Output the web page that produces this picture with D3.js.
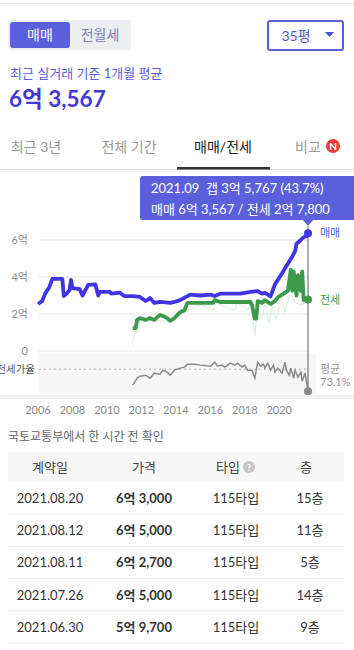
<!DOCTYPE html>
<html lang="ko">
<head>
<meta charset="utf-8">
<title>매매/전세</title>
<script src="https://d3js.org/d3.v7.min.js"></script>
<style>
  body { margin: 0; background: #fff; }
  svg { display: block; font-family: Lato, "Noto Sans CJK KR", sans-serif; }
</style>
</head>
<body>
<svg width="354" height="650"></svg>
<script>

// ---- data (값: 억원) ----
var maemae = [
  ["2006.01",2.54],["2006.04",2.7],["2006.06",3.1],["2006.09",3.46],["2006.11",3.9],
  ["2007.06",3.9],["2007.07",2.97],["2007.09",3.1],["2007.11",3.3],["2007.12",3.84],
  ["2008.01",3.4],["2008.06",3.35],["2008.08",3.0],["2008.12",3.57],["2009.05",3.6],
  ["2009.07",3.0],["2009.08",3.2],["2010.03",3.2],["2010.04",3.1],["2010.10",3.15],
  ["2011.01",2.97],["2011.07",2.97],["2011.12",2.92],["2012.04",2.7],["2012.07",2.86],
  ["2012.10",2.6],["2013.02",2.65],["2013.09",2.6],["2013.12",2.65],["2014.04",2.75],
  ["2014.11",3.05],["2015.06",3.0],["2016.01",3.05],["2016.04",2.97],["2016.08",3.1],
  ["2017.10",3.1],["2018.05",3.2],["2018.10",3.24],["2019.01",3.1],["2019.03",3.15],
  ["2019.07",2.95],["2019.10",3.6],["2020.03",4.2],["2020.06",4.6],["2020.10",5.1],
  ["2020.12",5.4],["2021.01",5.8],["2021.04",6.0],["2021.06",6.15],["2021.08",6.2],
  ["2021.09",6.36]
];

var jeonse = [
  ["2011.07",1.24],["2011.09",1.24],["2011.10",1.68],["2011.12",1.78],["2012.04",1.68],
  ["2012.07",1.78],["2012.10",1.68],["2013.02",1.95],["2013.04",1.89],["2013.07",1.78],
  ["2013.09",1.62],["2013.12",1.78],["2014.04",2.1],["2014.07",2.2],["2014.09",2.6],
  ["2015.06",2.6],["2016.03",2.6],["2016.04",2.75],["2016.08",2.65],["2017.10",2.65],
  ["2018.05",2.65],["2018.06",2.5],["2018.08",1.75],["2018.09",1.75],["2018.10",2.7],
  ["2019.01",2.6],["2019.03",2.75],["2019.07",2.55],["2019.10",2.7],["2019.12",2.9],
  ["2020.04",3.1],["2020.07",3.25],["2020.09",4.4],["2020.10",3.25],["2020.11",4.3],
  ["2021.01",3.0],["2021.02",4.1],["2021.04",3.25],["2021.05",4.3],["2021.06",2.75],
  ["2021.08",2.78],["2021.09",2.78]
];

var jeonseLow = [
  ["2011.07",0.3],["2011.09",1.2],["2011.10",1.0],["2011.12",1.7],["2013.07",1.6],
  ["2014.04",2.0],["2015.06",2.5],["2016.03",2.2],["2016.05",2.6],["2017.06",2.2],
  ["2017.08",2.6],["2018.03",2.2],["2018.05",2.6],["2018.08",0.8],["2018.10",2.4],
  ["2019.01",1.7],["2019.03",2.6],["2019.06",1.5],["2019.08",2.5],["2019.11",1.7],
  ["2020.02",2.9],["2020.05",2.1],["2020.08",3.0],["2020.10",2.9],["2021.01",2.6],
  ["2021.05",2.5],["2021.09",2.78]
];

// 전세가율 (%)
var ratio = [
  ["2011.07",51.7],["2011.10",61.1],["2011.12",63.8],["2012.04",65.1],["2012.07",61.1],
  ["2012.10",67.8],["2013.02",66.4],["2013.04",71.8],["2013.07",69.1],["2013.09",65.1],
  ["2013.12",71.8],["2014.04",74.5],["2014.07",75.8],["2014.09",79.8],["2015.02",79.8],
  ["2015.06",78.5],["2016.01",77.1],["2016.04",82.5],["2016.06",77.1],["2016.09",78.5],
  ["2016.11",75.8],["2017.03",81.1],["2017.06",78.5],["2017.08",81.1],["2017.11",75.8],
  ["2018.01",78.5],["2018.03",71.8],["2018.06",71.8],["2018.08",61.1],["2018.10",82.5],
  ["2018.12",77.1],["2019.02",79.8],["2019.03",74.5],["2019.05",81.1],["2019.07",71.8],
  ["2019.09",78.5],["2019.10",69.1],["2019.12",74.5],["2020.03",67.8],["2020.05",82.5],
  ["2020.06",71.8],["2020.08",65.1],["2020.09",74.5],["2020.11",61.1],["2020.12",71.8],
  ["2021.02",62.4],["2021.04",69.1],["2021.05",57.1],["2021.07",67.8],["2021.09",43.7]
];
var ratioAvg = 73.1;

var yTicks = [0, 2, 4, 6];
var yearTicks = [2006, 2008, 2010, 2012, 2014, 2016, 2018, 2020];

var tabs = ["최근 3년", "전체 기간", "매매/전세", "비교"];
var tableHead = ["계약일", "가격", "타입", "층"];
var deals = [
  ["2021.08.20", "6억 3,000", "115타입", "15층"],
  ["2021.08.12", "6억 5,000", "115타입", "11층"],
  ["2021.08.11", "6억 2,700", "115타입", "5층"],
  ["2021.07.26", "6억 5,000", "115타입", "14층"],
  ["2021.06.30", "5억 9,700", "115타입", "9층"]
];

// ---- setup ----
var svg = d3.select("svg");
var BLUE = "#5b5fdb", LINE_BLUE = "#4034e3", GREEN = "#3d9a4c";
var parse = d3.timeParse("%Y.%m");

var x = d3.scaleTime()
    .domain([parse("2006.01"), parse("2021.09")])
    .range([38, 308]);
var y = d3.scaleLinear().domain([0, 6]).range([351, 240]);
var yr = d3.scaleLinear().domain([40, 100]).range([394, 349]);

// top border
svg.append("rect").attr("x", 0).attr("y", 3).attr("width", 354).attr("height", 1).attr("fill", "#e4e4e4");

// 매매 / 전월세 toggle
svg.append("rect").attr("x", 8).attr("y", 20).attr("width", 123).attr("height", 30)
    .attr("rx", 3).attr("fill", "#eceef2");
svg.append("rect").attr("x", 10).attr("y", 22).attr("width", 60).attr("height", 26)
    .attr("rx", 3).attr("fill", BLUE);
svg.append("text").attr("x", 40).attr("y", 40).attr("text-anchor", "middle")
    .attr("font-size", "14px").attr("fill", "#fff").text("매매");
svg.append("text").attr("x", 100).attr("y", 40).attr("text-anchor", "middle")
    .attr("font-size", "14px").attr("fill", "#7b7fb5").text("전월세");

// dropdown
svg.append("rect").attr("x", 268).attr("y", 21).attr("width", 75).attr("height", 29)
    .attr("rx", 2).attr("fill", "#fff").attr("stroke", BLUE).attr("stroke-width", 2);
svg.append("text").attr("x", 296).attr("y", 41).attr("text-anchor", "middle")
    .attr("font-size", "14px").attr("fill", "#5157c8").text("35평");
svg.append("path").attr("d", "M325,32 L334,32 L329.5,37 Z").attr("fill", "#4a4fc5");

// headline
svg.append("text").attr("x", 10).attr("y", 78)
    .attr("font-size", "13px").attr("fill", "#5a5ed6").text("최근 실거래 기준 1개월 평균");
svg.append("text").attr("x", 9).attr("y", 107)
    .attr("font-size", "22.5px").attr("font-weight", "bold").attr("fill", "#4338d6").text("6억 3,567");

// tabs
var tabX = [36, 129, 223, 308];
svg.selectAll(".tab").data(tabs).enter().append("text")
    .attr("class", "tab")
    .attr("x", function(d, i) { return tabX[i]; })
    .attr("y", 152)
    .attr("text-anchor", "middle")
    .attr("font-size", "14px")
    .attr("fill", function(d, i) { return i == 2 ? "#222" : "#9a9a9a"; })
    .text(function(d) { return d; });
svg.append("circle").attr("cx", 333).attr("cy", 146).attr("r", 7).attr("fill", "#f23a3c");
svg.append("text").attr("x", 333).attr("y", 149.5).attr("text-anchor", "middle")
    .attr("font-size", "10px").attr("font-weight", "bold").attr("fill", "#fff").text("N");
svg.append("rect").attr("x", 0).attr("y", 169).attr("width", 354).attr("height", 1).attr("fill", "#dcdcdc");
svg.append("rect").attr("x", 177).attr("y", 167).attr("width", 93).attr("height", 2.5).attr("fill", "#333");

// ---- chart ----
var g = svg.append("g");

// ratio panel background
g.append("rect").attr("x", 39).attr("y", 354).attr("width", 277).attr("height", 40).attr("fill", "#f6f6f6");

// gridlines + y labels
g.selectAll(".grid").data(yTicks).enter().append("line")
    .attr("x1", 39).attr("x2", 308)
    .attr("y1", function(d) { return y(d); }).attr("y2", function(d) { return y(d); })
    .attr("stroke", "#e6e6e6");
g.selectAll(".ylab").data(yTicks).enter().append("text")
    .attr("x", 28).attr("y", function(d) { return y(d) + 4; })
    .attr("text-anchor", "end").attr("font-size", "11px").attr("fill", "#8a8a8a")
    .text(function(d) { return d == 0 ? "0" : d + "억"; });

var line = d3.line()
    .x(function(d) { return x(parse(d[0])); })
    .y(function(d) { return y(d[1]); });

g.append("path").datum(jeonseLow).attr("d", line)
    .attr("fill", "none").attr("stroke", "#dcefdf").attr("stroke-width", 1.2);
g.append("path").datum(jeonse).attr("d", line)
    .attr("fill", "none").attr("stroke", GREEN).attr("stroke-width", 3.8).attr("stroke-linejoin", "round");
g.append("path").datum(maemae).attr("d", line)
    .attr("fill", "none").attr("stroke", LINE_BLUE).attr("stroke-width", 3.8).attr("stroke-linejoin", "round");

// ratio line
g.append("line").attr("x1", 39).attr("x2", 308)
    .attr("y1", yr(ratioAvg)).attr("y2", yr(ratioAvg))
    .attr("stroke", "#b0b0b0").attr("stroke-dasharray", "2,3");
g.append("path").datum(ratio)
    .attr("d", d3.line().x(function(d) { return x(parse(d[0])); }).y(function(d) { return yr(d[1]); }))
    .attr("fill", "none").attr("stroke", "#8a8a8a").attr("stroke-width", 1.5);
g.append("text").attr("x", 35).attr("y", yr(ratioAvg) + 4).attr("text-anchor", "end")
    .attr("font-size", "10.5px").attr("fill", "#555").text("전세가율");

// separator under chart
svg.append("rect").attr("x", 0).attr("y", 395).attr("width", 354).attr("height", 4).attr("fill", "#f1f1f1");

// cursor
var last = parse("2021.09");
g.append("line").attr("x1", x(last)).attr("x2", x(last)).attr("y1", 226).attr("y2", 398)
    .attr("stroke", "#777").attr("stroke-width", 1.2);
g.append("circle").attr("cx", x(last)).attr("cy", y(6.36)).attr("r", 4).attr("fill", LINE_BLUE);
g.append("circle").attr("cx", x(last)).attr("cy", y(2.78)).attr("r", 4).attr("fill", GREEN);
g.append("circle").attr("cx", x(last)).attr("cy", yr(43.7)).attr("r", 4).attr("fill", "#8a8a8a");

g.append("text").attr("x", 320).attr("y", y(6.36) + 4).attr("font-size", "11px").attr("fill", "#5a5ed6").text("매매");
g.append("text").attr("x", 320).attr("y", y(2.78) + 4).attr("font-size", "11px").attr("fill", GREEN).text("전세");
g.append("text").attr("x", 320).attr("y", 373).attr("font-size", "11px").attr("fill", "#999").text("평균");
g.append("text").attr("x", 320).attr("y", 386).attr("font-size", "11px").attr("fill", "#999").text("73.1%");

// tooltip
svg.append("rect").attr("x", 140).attr("y", 176).attr("width", 216).attr("height", 44).attr("rx", 3).attr("fill", BLUE);
svg.append("path").attr("d", "M302,219 L314,219 L308,226 Z").attr("fill", BLUE);
svg.append("text").attr("x", 151).attr("y", 193).attr("font-size", "13px").attr("fill", "#fff")
    .attr("xml:space", "preserve").text("2021.09  갭 3억 5,767 (43.7%)");
svg.append("text").attr("x", 151).attr("y", 214).attr("font-size", "13px").attr("fill", "#fff")
    .text("매매 6억 3,567 / 전세 2억 7,800");

// x axis labels
svg.selectAll(".xlab").data(yearTicks).enter().append("text")
    .attr("x", function(d) { return x(new Date(d, 0, 1)); })
    .attr("y", 414).attr("text-anchor", "middle")
    .attr("font-size", "11px").attr("fill", "#8a8a8a")
    .text(function(d) { return d; });

// source note
svg.append("text").attr("x", 8).attr("y", 441).attr("font-size", "12px").attr("fill", "#666")
    .text("국토교통부에서 한 시간 전 확인");

// ---- table ----
var colX = [50, 144, 236, 310];
svg.append("rect").attr("x", 8).attr("y", 452).attr("width", 336).attr("height", 30).attr("fill", "#f7f7f7");
svg.selectAll(".th").data(tableHead).enter().append("text")
    .attr("x", function(d, i) { return i == 2 ? colX[i] - 8 : (i == 3 ? 306 : colX[i]); })
    .attr("y", 472).attr("text-anchor", "middle")
    .attr("font-size", "13px").attr("fill", "#444")
    .text(function(d) { return d; });
svg.append("circle").attr("cx", 249).attr("cy", 467).attr("r", 6).attr("fill", "#c4c4c4");
svg.append("text").attr("x", 249).attr("y", 471).attr("text-anchor", "middle")
    .attr("font-size", "10px").attr("font-weight", "bold").attr("fill", "#fff").text("?");

var rowY = d3.scaleBand().domain(d3.range(deals.length)).range([482, 643]);
var rows = svg.selectAll(".row").data(deals).enter().append("g")
    .attr("transform", function(d, i) { return "translate(0," + rowY(i) + ")"; });
rows.append("line").attr("x1", 8).attr("x2", 344)
    .attr("y1", rowY.bandwidth()).attr("y2", rowY.bandwidth()).attr("stroke", "#ececec");
rows.selectAll("text").data(function(d) { return d; }).enter().append("text")
    .attr("x", function(d, i) { return colX[i]; })
    .attr("y", rowY.bandwidth() / 2 + 5)
    .attr("text-anchor", "middle")
    .attr("font-size", "13px")
    .attr("font-weight", function(d, i) { return i == 1 ? "bold" : "normal"; })
    .attr("fill", "#333")
    .text(function(d) { return d; });

</script>
</body>
</html>
